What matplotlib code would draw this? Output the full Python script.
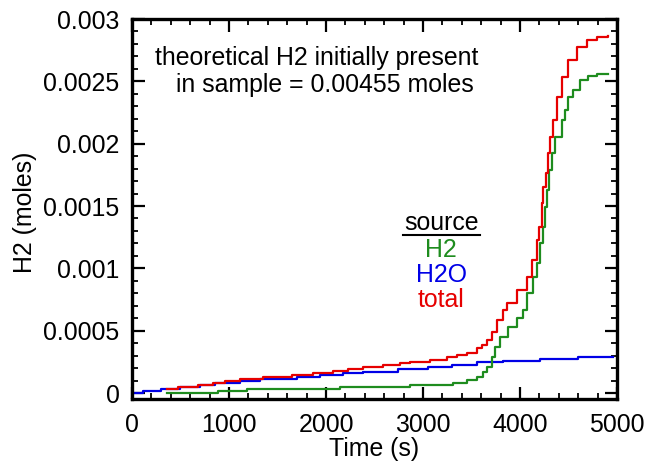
import matplotlib
matplotlib.use("Agg")
import matplotlib.pyplot as plt
from matplotlib.ticker import MultipleLocator, FixedLocator, FixedFormatter
from matplotlib.lines import Line2D

plt.rcParams['font.family'] = ['Liberation Sans', 'DejaVu Sans']

# ---- data ----
h2o_t = [0, 113, 299, 495, 701, 856, 1113, 1320, 1701, 1938, 2175, 2382, 2742,
         3052, 3299, 3557, 3825, 4206, 4598, 4960]
h2o_v = [0.0, 1.9e-5, 3.5e-5, 5.1e-5, 6.7e-5, 8.3e-5, 1.0e-4, 1.15e-4, 1.3e-4,
         1.47e-4, 1.63e-4, 1.72e-4, 1.9e-4, 2.1e-4, 2.27e-4, 2.5e-4, 2.6e-4,
         2.75e-4, 2.9e-4, 2.9e-4]

tot_t = [361, 474, 680, 835, 959, 1113, 1351, 1649, 1866, 2072, 2227, 2381, 2588,
         2763, 2866, 3072, 3247, 3350, 3454, 3557, 3608, 3660, 3711, 3763, 3825,
         3866, 3969, 4072, 4124, 4175, 4196, 4227, 4237, 4268, 4289, 4309, 4340,
         4381, 4433, 4495, 4588, 4691, 4794, 4907]
tot_v = [3.5e-5, 5.1e-5, 6.7e-5, 8.3e-5, 9.9e-5, 1.15e-4, 1.31e-4, 1.47e-4,
         1.63e-4, 1.79e-4, 1.96e-4, 2.12e-4, 2.28e-4, 2.44e-4, 2.52e-4, 2.68e-4,
         2.92e-4, 3.08e-4, 3.24e-4, 3.64e-4, 3.88e-4, 4.28e-4, 4.92e-4, 5.88e-4,
         6.68e-4, 7.24e-4, 8.29e-4, 9.33e-4, 1.069e-3, 1.229e-3, 1.333e-3,
         1.526e-3, 1.654e-3, 1.766e-3, 1.926e-3, 2.055e-3, 2.191e-3, 2.375e-3,
         2.535e-3, 2.671e-3, 2.776e-3, 2.832e-3, 2.856e-3, 2.864e-3]

h2_t = [361, 887, 1186, 2144, 2866, 3309, 3454, 3557, 3619, 3660, 3711, 3742, 3794,
        3876, 3969, 4031, 4072, 4134, 4175, 4206, 4237, 4258, 4278, 4299, 4330,
        4361, 4433, 4464, 4495, 4546, 4619, 4701, 4794, 4907]
h2_v = [3e-6, 1.9e-5, 3.5e-5, 5.1e-5, 6.7e-5, 8.3e-5, 1.07e-4, 1.31e-4, 1.71e-4,
        2.12e-4, 2.92e-4, 3.72e-4, 4.52e-4, 5.32e-4, 6.04e-4, 6.68e-4, 8.05e-4,
        9.33e-4, 1.045e-3, 1.205e-3, 1.333e-3, 1.494e-3, 1.63e-3, 1.79e-3,
        1.926e-3, 2.055e-3, 2.191e-3, 2.271e-3, 2.375e-3, 2.431e-3, 2.511e-3,
        2.543e-3, 2.559e-3, 2.559e-3]

x_ticks = [0, 1000, 2000, 3000, 4000, 5000]
x_labels = ['0', '1000', '2000', '3000', '4000', '5000']
y_ticks = [0, 0.0005, 0.001, 0.0015, 0.002, 0.0025, 0.003]
y_labels = ['0', '0.0005', '0.001', '0.0015', '0.002', '0.0025', '0.003']

legend_names = ['H2', 'H2O', 'total']

C_GREEN = '#1E8C1E'
C_BLUE = '#0000E6'
C_RED = '#E60000'

fig = plt.figure(figsize=(6.45, 4.61), dpi=100)
ax = fig.add_axes([132/645, 1-399/461, 485/645, 380/461])

lw = 1.6
ax.plot(h2o_t, h2o_v, drawstyle='steps-post', color=C_BLUE, lw=lw)
ax.plot(h2_t, h2_v, drawstyle='steps-post', color=C_GREEN, lw=lw)
ax.plot(tot_t, tot_v, drawstyle='steps-post', color=C_RED, lw=lw)

ax.set_xlim(0, 5000)
ax.set_ylim(-0.000048, 0.003)

ax.xaxis.set_major_locator(FixedLocator(x_ticks))
ax.xaxis.set_major_formatter(FixedFormatter(x_labels))
ax.xaxis.set_minor_locator(MultipleLocator(200))
ax.yaxis.set_major_locator(FixedLocator(y_ticks))
ax.yaxis.set_major_formatter(FixedFormatter(y_labels))
ax.yaxis.set_minor_locator(MultipleLocator(0.0001))

for s in ax.spines.values():
    s.set_linewidth(2.4)

fs = 17.9
ax.tick_params(which='both', direction='in', top=True, right=True)
ax.tick_params(which='major', length=9, width=1.6, labelsize=fs)
ax.tick_params(which='minor', length=4.5, width=1.3)
ax.tick_params(axis='x', which='major', pad=10)
ax.tick_params(axis='y', which='major', pad=9)

ax.set_xlabel('Time (s)', fontsize=fs)
ax.set_ylabel('H2 (moles)', fontsize=fs)
ax.xaxis.set_label_coords(0.5, -0.1)
ax.yaxis.set_label_coords(-0.196, 0.49)

ax.text(237, 0.00263, 'theoretical H2 initially present', fontsize=fs,
        ha='left', va='baseline', color='black')
ax.text(454, 0.002415, 'in sample = 0.00455 moles', fontsize=fs,
        ha='left', va='baseline', color='black')

ax.text(3186, 1.309e-3, 'source', fontsize=fs, ha='center', va='baseline', color='black')
ax.add_line(Line2D([2794, 3588], [1.266e-3, 1.266e-3], color='black', lw=1.5))
ax.text(3186, 1.093e-3, legend_names[0], fontsize=fs, ha='center', va='baseline', color=C_GREEN)
ax.text(3186, 0.893e-3, legend_names[1], fontsize=fs, ha='center', va='baseline', color=C_BLUE)
ax.text(3186, 0.692e-3, legend_names[2], fontsize=fs, ha='center', va='baseline', color=C_RED)

fig.savefig('out.png', dpi=100)
